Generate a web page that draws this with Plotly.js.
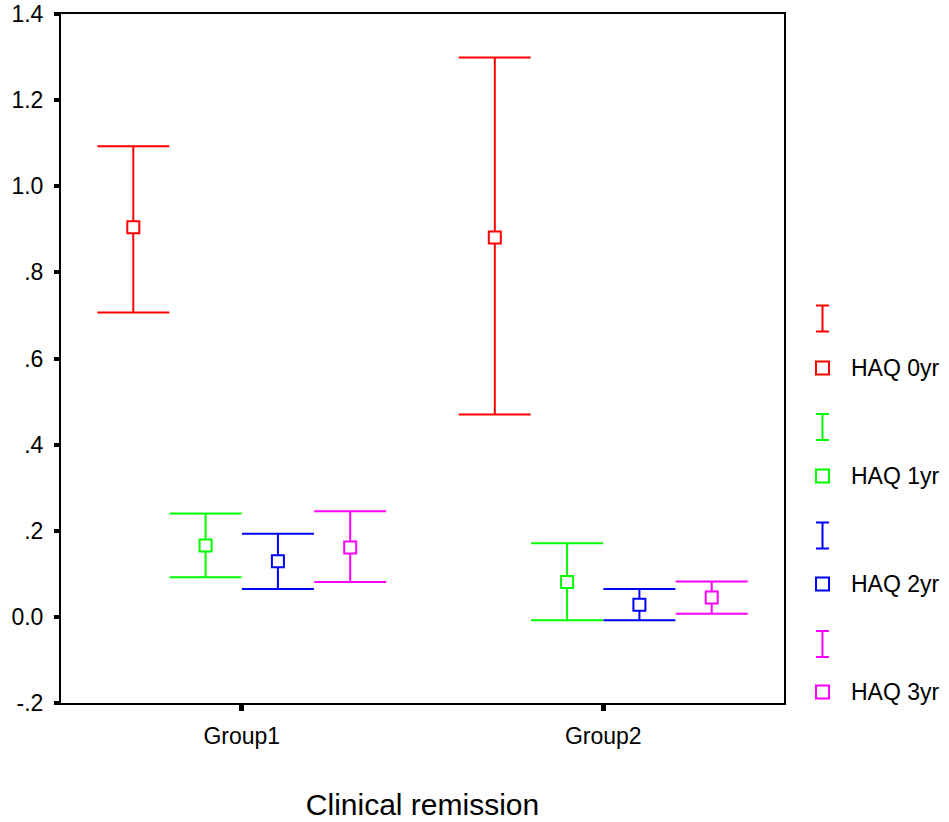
<!DOCTYPE html>
<html>
<head>
<meta charset="utf-8">
<script src="https://cdn.plot.ly/plotly-3.0.1.min.js"></script>
<style>
html,body{margin:0;padding:0;background:#fff;}
#chart{width:949px;height:822px;}
</style>
</head>
<body>
<div id="chart"></div>
<script>
// ---- data ----
const groups = ['Group1', 'Group2'];
const groupPos = [0, 1];
const seriesNames = ['HAQ 0yr', 'HAQ 1yr', 'HAQ 2yr', 'HAQ 3yr'];
const seriesColors = ['#FF0000', '#00FF00', '#0000FF', '#FF00FF'];
const seriesOffsets = [-0.3, -0.1, 0.1, 0.3];

const meanHAQ0 = [0.905, 0.881];
const meanHAQ1 = [0.166, 0.081];
const meanHAQ2 = [0.129, 0.028];
const meanHAQ3 = [0.161, 0.045];

const upperHAQ0 = [1.093, 1.299];
const upperHAQ1 = [0.240, 0.171];
const upperHAQ2 = [0.193, 0.065];
const upperHAQ3 = [0.245, 0.082];

const lowerHAQ0 = [0.707, 0.470];
const lowerHAQ1 = [0.092, -0.008];
const lowerHAQ2 = [0.065, -0.008];
const lowerHAQ3 = [0.081, 0.007];

const yTickVals = [-0.2, 0, 0.2, 0.4, 0.6, 0.8, 1.0, 1.2, 1.4];
const yTickText = ['-.2', '0.0', '.2', '.4', '.6', '.8', '1.0', '1.2', '1.4'];
const xTitle = 'Clinical remission';

const means = [meanHAQ0, meanHAQ1, meanHAQ2, meanHAQ3];
const uppers = [upperHAQ0, upperHAQ1, upperHAQ2, upperHAQ3];
const lowers = [lowerHAQ0, lowerHAQ1, lowerHAQ2, lowerHAQ3];

const FONT = 'Liberation Sans, Arial, sans-serif';

const traces = seriesNames.map((name, s) => ({
  type: 'scatter',
  mode: 'markers',
  name: name,
  x: groupPos.map(g => g + seriesOffsets[s]),
  y: means[s],
  marker: {symbol: 'square', size: 12, color: '#ffffff',
           line: {color: seriesColors[s], width: 2}},
  error_y: {
    type: 'data', symmetric: false,
    array: means[s].map((m, i) => uppers[s][i] - m),
    arrayminus: means[s].map((m, i) => m - lowers[s][i]),
    color: seriesColors[s], thickness: 2, width: 36
  },
  showlegend: false,
  hoverinfo: 'x+y'
}));

// ---- layout geometry (pixels) ----
const W = 949, H = 822;
const M = {l: 61, r: 165, t: 14, b: 119};
const pw = W - M.l - M.r, ph = H - M.t - M.b;
const px = x => (x - M.l) / pw;
const py = y => (H - M.b - y) / ph;

// manual legend (decoration)
const shapes = [];
const annotations = [];
seriesNames.forEach((name, s) => {
  const c = seriesColors[s];
  const iy = 318.5 + 108.5 * s;   // error-bar icon centre
  const sy = 368 + 108 * s;       // square icon centre
  const ix = 822.5;
  shapes.push({type: 'line', xref: 'paper', yref: 'paper',
    x0: px(ix), x1: px(ix), y0: py(iy - 13), y1: py(iy + 13), line: {color: c, width: 2}});
  shapes.push({type: 'line', xref: 'paper', yref: 'paper',
    x0: px(ix - 6.5), x1: px(ix + 6.5), y0: py(iy - 13), y1: py(iy - 13), line: {color: c, width: 2}});
  shapes.push({type: 'line', xref: 'paper', yref: 'paper',
    x0: px(ix - 6.5), x1: px(ix + 6.5), y0: py(iy + 13), y1: py(iy + 13), line: {color: c, width: 2}});
  shapes.push({type: 'rect', xref: 'paper', yref: 'paper',
    x0: px(ix - 6.5), x1: px(ix + 6.5), y0: py(sy - 6.5), y1: py(sy + 6.5),
    line: {color: c, width: 2}, fillcolor: 'rgba(0,0,0,0)'});
  annotations.push({xref: 'paper', yref: 'paper', x: px(849), y: py(sy),
    xanchor: 'left', yanchor: 'middle', showarrow: false, text: name,
    font: {family: FONT, size: 23, color: '#000'}});
});

const layout = {
  width: W, height: H,
  margin: M,
  paper_bgcolor: '#fff', plot_bgcolor: '#fff',
  showlegend: false,
  font: {family: FONT, color: '#000'},
  xaxis: {
    range: [-0.5, 1.5],
    tickvals: groupPos, ticktext: groups,
    showgrid: false, zeroline: false,
    showline: true, mirror: true, linecolor: '#000', linewidth: 2,
    ticks: 'outside', ticklen: 6, tickwidth: 5, tickcolor: '#000',
    tickfont: {family: FONT, size: 23, color: '#000'},
    ticklabelstandoff: 5,
    title: {text: xTitle, font: {family: FONT, size: 30, color: '#000'}, standoff: 46},
    automargin: false
  },
  yaxis: {
    range: [-0.2, 1.4],
    tickvals: yTickVals, ticktext: yTickText,
    showgrid: false, zeroline: false,
    showline: true, mirror: true, linecolor: '#000', linewidth: 2,
    ticks: 'outside', ticklen: 5, tickwidth: 4, tickcolor: '#000',
    tickfont: {family: FONT, size: 23, color: '#000'},
    ticklabelstandoff: 6,
    automargin: false
  },
  shapes: shapes,
  annotations: annotations
};

Plotly.newPlot('chart', traces, layout, {displayModeBar: false, staticPlot: true});
</script>
</body>
</html>
